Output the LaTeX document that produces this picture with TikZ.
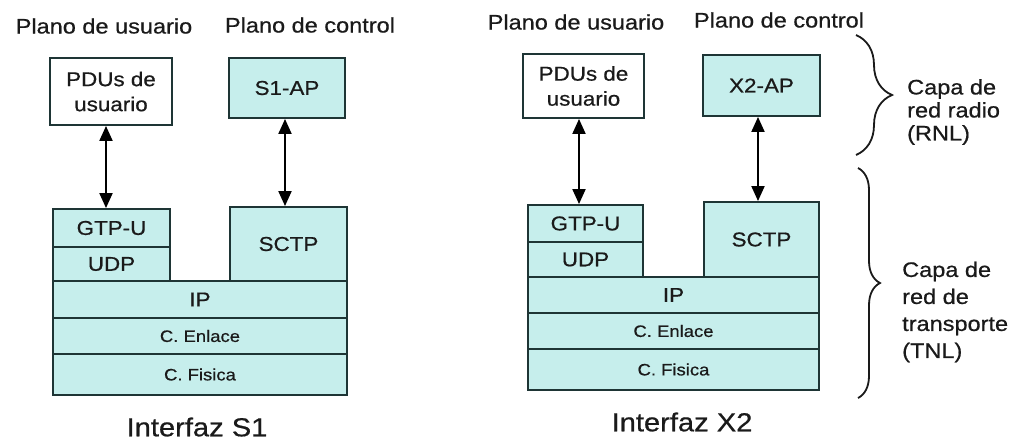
\documentclass[tikz,border=0pt]{standalone}
\usepackage{fontspec}
\setmainfont{Liberation Sans}[FakeStretch=1.12,FakeBold=0.6]
\usetikzlibrary{arrows.meta,decorations.pathreplacing}
\definecolor{cfill}{HTML}{C6EEEC}
\definecolor{cline}{HTML}{1E3535}
\definecolor{ctext}{HTML}{1A1A1A}
\begin{document}
\begin{tikzpicture}[x=1pt,y=-1pt,
  lay/.style={draw=cline, line width=1.9pt, fill=cfill, inner sep=0pt, text=ctext,
    font=\fontsize{20}{25}\selectfont, align=center},
  upd/.style={lay, fill=white},
  small/.style={font=\fontsize{16.5}{20}\selectfont},
  plane/.style={text=ctext, font=\fontsize{21}{25}\selectfont, inner sep=0pt},
  title/.style={text=ctext, font=\fontsize{26}{30}\selectfont, inner sep=0pt},
  side/.style={text=ctext, align=left, inner sep=0pt, anchor=west},
  arr/.style={line width=2pt, {Triangle[width=13pt,length=15pt]}-{Triangle[width=13pt,length=15pt]}},
  brc/.style={line width=1.8pt, draw=ctext, decorate}
]
\useasboundingbox (0,0) rectangle (1014,440);
\fill[white] (0,0) rectangle (1014,440);

% ---------- Interfaz S1 ----------
\node[plane] (pu1) at (104,26) {Plano de usuario};
\node[plane] (pc1) at (310,25) {Plano de control};
\node[upd, minimum width=122pt, minimum height=67pt] (pdu1) at (111,91.5) {PDUs de\\usuario};
\node[lay, minimum width=116pt, minimum height=60pt] (ap1) at (287,88) {S1-AP};
\node[lay, minimum width=117pt, minimum height=38pt] (gtp1) at (111.5,228) {GTP-U};
\node[lay, minimum width=117pt, minimum height=34pt] (udp1) at (111.5,264) {UDP};
\node[lay, minimum width=117pt, minimum height=74pt] (sctp1) at (288.5,244) {SCTP};
\node[lay, minimum width=294pt, minimum height=37pt] (ip1) at (200,299.5) {IP};
\node[lay, small, minimum width=294pt, minimum height=36pt] (enl1) at (200,336) {C. Enlace};
\node[lay, small, minimum width=294pt, minimum height=41pt] (fis1) at (200,374.5) {C. Fisica};
\node[title] (t1) at (197,427) {Interfaz S1};
\draw[arr] ([xshift=-5pt]pdu1.south) -- ([xshift=-5pt]pdu1.south |- gtp1.north);
\draw[arr] ([xshift=-2pt]ap1.south) -- ([xshift=-2pt]ap1.south |- sctp1.north);

% ---------- Interfaz X2 ----------
\node[plane] (pu2) at (576,22) {Plano de usuario};
\node[plane] (pc2) at (779,20) {Plano de control};
\node[upd, minimum width=121pt, minimum height=64pt] (pdu2) at (583.5,86) {PDUs de\\usuario};
\node[lay, minimum width=117pt, minimum height=61pt] (ap2) at (761.5,85.5) {X2-AP};
\node[lay, minimum width=115pt, minimum height=37pt] (gtp2) at (585.5,223.5) {GTP-U};
\node[lay, minimum width=115pt, minimum height=35pt] (udp2) at (585.5,259.5) {UDP};
\node[lay, minimum width=115pt, minimum height=75pt] (sctp2) at (761.5,239.5) {SCTP};
\node[lay, minimum width=291pt, minimum height=36pt] (ip2) at (673.5,295) {IP};
\node[lay, small, minimum width=291pt, minimum height=36pt] (enl2) at (673.5,331) {C. Enlace};
\node[lay, small, minimum width=291pt, minimum height=41pt] (fis2) at (673.5,369.5) {C. Fisica};
\node[title] (t2) at (682,422) {Interfaz X2};
\draw[arr] ([xshift=-4.5pt]pdu2.south) -- ([xshift=-4.5pt]pdu2.south |- gtp2.north);
\draw[arr] ([xshift=-3.5pt]ap2.south) -- ([xshift=-3.5pt]ap2.south |- sctp2.north);

% ---------- Braces ----------
\coordinate (b1t) at (856,35);
\coordinate (b1b) at (856,155);
\coordinate (b2t) at (858,168);
\coordinate (b2b) at (858,398);
\draw[brc, decoration={brace, amplitude=36pt, aspect=0.5}] (b1t) -- (b1b);
\draw[brc, decoration={brace, amplitude=22pt, aspect=0.5}] (b2t) -- (b2b);
\node[side, font=\fontsize{21}{23}\selectfont] (rnl) at (907,112) {Capa de\\red radio\\(RNL)};
\node[side, font=\fontsize{21}{27}\selectfont] (tnl) at (902,312) {Capa de\\red de\\transporte\\(TNL)};
\end{tikzpicture}
\end{document}
